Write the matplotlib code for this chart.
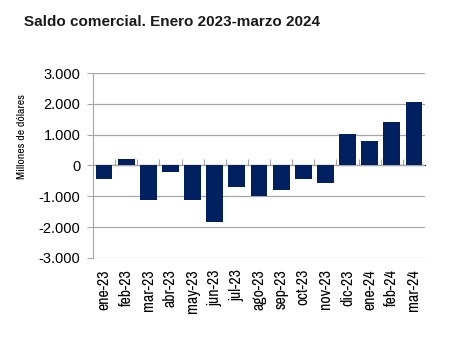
import matplotlib
matplotlib.use('Agg')
import matplotlib.pyplot as plt
from matplotlib.ticker import FuncFormatter
import numpy as np

# monthly trade balance, millions of dollars
months = ['ene-23', 'feb-23', 'mar-23', 'abr-23', 'may-23', 'jun-23', 'jul-23',
          'ago-23', 'sep-23', 'oct-23', 'nov-23', 'dic-23', 'ene-24', 'feb-24', 'mar-24']
saldo = [-440, 205, -1110, -195, -1130, -1840, -700,
         -980, -785, -440, -560, 1020, 785, 1410, 2055]
yticks = [-3000, -2000, -1000, 0, 1000, 2000, 3000]

plt.rcParams['font.family'] = ['Liberation Sans', 'DejaVu Sans']
narrow = ['Archivo Narrow', 'Roboto Condensed', 'Liberation Sans']
grey = '#a6a6a6'

fig = plt.figure(figsize=(4.77, 3.51), dpi=100)
ax = fig.add_axes([0.195, 0.265, 0.696, 0.527])

x = np.arange(len(months))
ax.bar(x, saldo, width=0.76, color='#002060', zorder=3)

ax.set_xlim(-0.5, len(months) - 0.5)
ax.set_ylim(-3000, 3000)
ax.set_yticks(yticks)
ax.yaxis.set_major_formatter(FuncFormatter(lambda v, p: f'{int(v):,}'.replace(',', '.')))
ax.grid(axis='y', color=grey, linewidth=0.9, zorder=0)

for s in ['top', 'right', 'bottom']:
    ax.spines[s].set_visible(False)
ax.spines['left'].set_color(grey)
ax.tick_params(axis='y', length=4, color=grey, labelsize=10.5, pad=5)

ax.set_xticks(x)
ax.set_xticklabels(months, rotation=90, fontsize=11.5, family=narrow)
ax.tick_params(axis='x', length=0, pad=8)

# zero line with tick marks between categories
sec = ax.secondary_xaxis(0.5)
sec.set_xticks(x[:-1] + 0.5)
sec.set_xticklabels([])
sec.tick_params(length=4, color=grey, direction='out')
sec.spines['bottom'].set_color(grey)

ax.set_ylabel('Millones de dólares', fontsize=8.5, family=narrow)
ax.yaxis.set_label_coords(-0.2, 0.655)

fig.text(0.05, 0.925, 'Saldo comercial. Enero 2023-marzo 2024',
         fontsize=11, fontweight='bold', color='#1a1a1a')

fig.savefig('out.png', dpi=100)
